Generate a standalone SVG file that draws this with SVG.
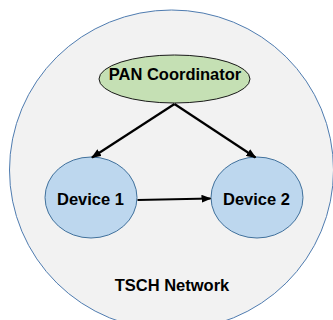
<svg xmlns="http://www.w3.org/2000/svg" width="333" height="320" viewBox="0 0 333 320">
<style>
text{font-family:"Liberation Sans",Arial,Helvetica,sans-serif;font-weight:bold;font-size:16.5px;fill:#000;text-anchor:middle}
.dev{fill:#bdd7ee;stroke:#41719c;stroke-width:1}
.edge{stroke:#000;stroke-width:2.2;fill:none}
</style>
<defs>
<marker id="ah" markerUnits="userSpaceOnUse" markerWidth="10" markerHeight="8" refX="9" refY="4" orient="auto">
<path d="M0,0 L10,4 L0,8 Z" fill="#000"/>
</marker>
</defs>
<rect width="333" height="320" fill="#fff"/>
<g id="network">
<ellipse cx="171.5" cy="170" rx="162" ry="160" fill="#f2f2f2" stroke="#4f7cb0" stroke-width="1"/>
<text x="172" y="290.5">TSCH Network</text>
</g>
<g id="pan">
<ellipse cx="174.5" cy="79" rx="75.5" ry="24" fill="#c5e0b4" stroke="#1a1a1a" stroke-width="1"/>
<text x="175" y="80">PAN Coordinator</text>
</g>
<g id="device1">
<ellipse class="dev" cx="91" cy="197.5" rx="46" ry="40.5"/>
<text x="90.5" y="205">Device 1</text>
</g>
<g id="device2">
<ellipse class="dev" cx="257" cy="197.5" rx="46" ry="40.5"/>
<text x="256.5" y="205">Device 2</text>
</g>
<g id="connectors">
<line class="edge" x1="174.5" y1="104" x2="92" y2="157.5" marker-end="url(#ah)"/>
<line class="edge" x1="174.5" y1="104" x2="255.5" y2="157.5" marker-end="url(#ah)"/>
<line class="edge" x1="137.5" y1="200" x2="210.5" y2="198.5" marker-end="url(#ah)"/>
</g>
</svg>
